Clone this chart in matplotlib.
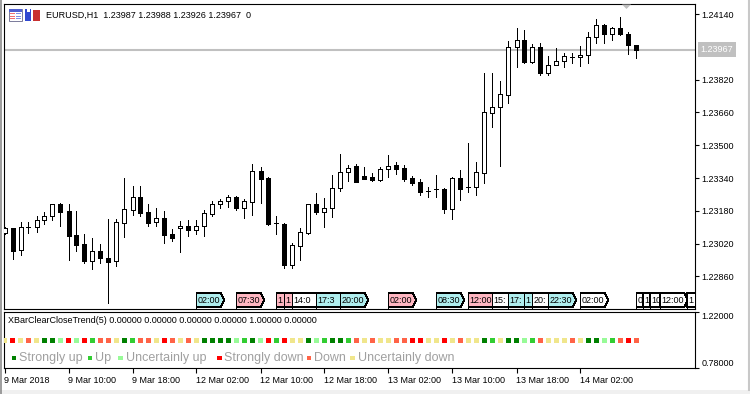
import matplotlib
matplotlib.use('Agg')
import matplotlib.pyplot as plt
import matplotlib.transforms as mtransforms
from matplotlib.patches import Polygon, Rectangle

plt.rcParams['font.family'] = ['Liberation Sans', 'DejaVu Sans']

# EURUSD H1, 80 bars from 9 Mar 2018 02:00
opens = [1.23071, 1.23096, 1.22987, 1.23102, 1.23099, 1.23133, 1.23153, 1.23214, 1.23179, 1.23060,
         1.23016, 1.22936, 1.22983, 1.22951, 1.22936, 1.23122, 1.23185, 1.23247, 1.23174, 1.23124,
         1.23144, 1.23065, 1.23094, 1.23104, 1.23084, 1.23104, 1.23163, 1.23211, 1.23226, 1.23246,
         1.23196, 1.23224, 1.23372, 1.23340, 1.23119, 1.23118, 1.22915, 1.23009, 1.23073, 1.23211,
         1.23175, 1.23192, 1.23289, 1.23367, 1.23400, 1.23349, 1.23345, 1.23330, 1.23382, 1.23403,
         1.23389, 1.23340, 1.23320, 1.23278, 1.23285, 1.23286, 1.23188, 1.23338, 1.23294, 1.23294,
         1.23366, 1.23655, 1.23685, 1.23743, 1.23977, 1.24012, 1.23907, 1.23977, 1.23851, 1.23890,
         1.23909, 1.23932, 1.23929, 1.23938, 1.24026, 1.24085, 1.24041, 1.24070, 1.24041, 1.23987]
highs = [1.23101, 1.23098, 1.23125, 1.23125, 1.23154, 1.23174, 1.23213, 1.23219, 1.23213, 1.23179,
         1.23065, 1.23047, 1.23018, 1.23138, 1.23138, 1.23340, 1.23301, 1.23301, 1.23213, 1.23193,
         1.23179, 1.23092, 1.23131, 1.23133, 1.23133, 1.23184, 1.23227, 1.23237, 1.23257, 1.23250,
         1.23239, 1.23408, 1.23392, 1.23345, 1.23154, 1.23120, 1.23024, 1.23096, 1.23213, 1.23268,
         1.23242, 1.23354, 1.23457, 1.23405, 1.23407, 1.23393, 1.23363, 1.23395, 1.23452, 1.23416,
         1.23402, 1.23348, 1.23335, 1.23297, 1.23354, 1.23291, 1.23345, 1.23379, 1.23510, 1.23416,
         1.23854, 1.23854, 1.23813, 1.24008, 1.24072, 1.24062, 1.23994, 1.23998, 1.23935, 1.23973,
         1.23950, 1.23950, 1.23984, 1.24051, 1.24114, 1.24091, 1.24078, 1.24127, 1.24054, 1.23988]
lows = [1.23066, 1.22947, 1.22965, 1.23074, 1.23075, 1.23114, 1.23137, 1.23107, 1.22941, 1.22985,
        1.22923, 1.22897, 1.22926, 1.22728, 1.22910, 1.23053, 1.23161, 1.23154, 1.23105, 1.23105,
        1.23024, 1.23034, 1.22980, 1.23058, 1.23068, 1.23058, 1.23157, 1.23196, 1.23201, 1.23184,
        1.23147, 1.23161, 1.23219, 1.23112, 1.23068, 1.22900, 1.22900, 1.22941, 1.23068, 1.23164,
        1.23102, 1.23151, 1.23276, 1.23327, 1.23320, 1.23333, 1.23327, 1.23327, 1.23346, 1.23361,
        1.23327, 1.23306, 1.23258, 1.23248, 1.23248, 1.23170, 1.23141, 1.23232, 1.23271, 1.23259,
        1.23317, 1.23587, 1.23397, 1.23704, 1.23880, 1.23899, 1.23902, 1.23841, 1.23841, 1.23889,
        1.23880, 1.23899, 1.23885, 1.23899, 1.24000, 1.24000, 1.24015, 1.24038, 1.23943, 1.23926]
closes = [1.23096, 1.22986, 1.23102, 1.23102, 1.23135, 1.23153, 1.23211, 1.23175, 1.23058, 1.23014,
          1.22936, 1.22983, 1.22951, 1.22931, 1.23126, 1.23188, 1.23247, 1.23170, 1.23122, 1.23143,
          1.23063, 1.23045, 1.23104, 1.23084, 1.23104, 1.23167, 1.23211, 1.23226, 1.23246, 1.23196,
          1.23227, 1.23372, 1.23336, 1.23115, 1.23119, 1.22915, 1.23013, 1.23075, 1.23211, 1.23174,
          1.23192, 1.23289, 1.23367, 1.23387, 1.23322, 1.23336, 1.23330, 1.23382, 1.23397, 1.23385,
          1.23336, 1.23317, 1.23271, 1.23278, 1.23285, 1.23190, 1.23338, 1.23287, 1.23294, 1.23367,
          1.23662, 1.23686, 1.23748, 1.23977, 1.24012, 1.23906, 1.23977, 1.23851, 1.23890, 1.23909,
          1.23934, 1.23932, 1.23940, 1.24026, 1.24085, 1.24041, 1.24070, 1.24041, 1.23987, 1.23967]

# XBarClearCloseTrend state per bar (index into trend_names)
trend = [5, 3, 5, 4, 5, 0, 0, 2, 3, 2, 3, 1, 4, 4, 5, 0, 1, 4, 4, 5,
         3, 4, 5, 4, 5, 0, 0, 0, 0, 2, 1, 0, 2, 3, 1, 3, 5, 5, 0, 2,
         1, 0, 0, 1, 4, 5, 4, 5, 5, 4, 4, 3, 3, 5, 5, 3, 5, 4, 5, 5,
         0, 1, 5, 0, 0, 2, 1, 4, 5, 5, 5, 4, 5, 0, 0, 2, 1, 4, 3, 4]
trend_names = ['Strongly up', 'Up', 'Uncertainly up', 'Strongly down', 'Down', 'Uncertainly down']
trend_colors = ['#008000', '#32cd32', '#98fb98', '#ff0000', '#ff6347', '#f0e68c']

time_ticks = [0, 8, 16, 24, 32, 40, 48, 56, 64, 72]
time_labels = ['9 Mar 2018', '9 Mar 10:00', '9 Mar 18:00', '12 Mar 02:00', '12 Mar 10:00',
               '12 Mar 18:00', '13 Mar 02:00', '13 Mar 10:00', '13 Mar 18:00', '14 Mar 02:00']
price_ticks = [1.22860, 1.23020, 1.23180, 1.23340, 1.23500, 1.23660, 1.23820, 1.24140]

# calendar event labels (bar position, visible text, kind); later ones cover earlier ones
event_pos = [24, 29, 34, 35, 36, 39, 42, 48, 54, 58, 61, 63, 65, 66, 68, 72,
             79, 79.85, 80.7, 81.95, 85.3]
event_text = ['02:00', '07:30', '1', '1', '14:0', '17:3', '20:00', '02:00', '08:30',
              '12:00', '15:', '17:', '1', '20:', '22:30', '02:00',
              '0', '1', '10', '12:00', '1']
event_kind = ['c', 'p', 'p', 'p', 'w', 'c', 'c', 'p', 'c', 'p', 'w', 'c', 'c', 'w', 'c', 'w',
              'w', 'w', 'w', 'w', 'w']
kind_colors = {'c': '#afeeee', 'p': '#ffb6c1', 'w': 'white'}

W, H = 750, 394
fig = plt.figure(figsize=(W / 100, H / 100), dpi=100)


def box(x0, y0, x1, y1):
    return [x0 / W, 1 - y1 / H, (x1 - x0) / W, (y1 - y0) / H]


xlim = (-0.0625, -0.0625 + 691 / 8)

# main price pane
ax = fig.add_axes(box(4, 4, 695, 309))
ax.set_xlim(*xlim)
ax.set_ylim(1.22701, 1.24189)
for s in ax.spines.values():
    s.set_linewidth(0.8)

x = list(range(len(opens)))
bottoms = [min(o, c) for o, c in zip(opens, closes)]
heights = [abs(c - o) for o, c in zip(opens, closes)]
fills = ['white' if c >= o else 'black' for o, c in zip(opens, closes)]

ax.axhline(closes[-1], color='#c0c0c0', lw=1.5, zorder=1)
ax.vlines(x, lows, highs, color='black', lw=0.72, zorder=2, antialiased=False)
ax.bar(x, heights, bottom=bottoms, width=0.5, color=fills, edgecolor='black',
       linewidth=0.72, zorder=3, antialiased=False)

ax.set_xticks([])
ax.yaxis.tick_right()
ax.set_yticks(price_ticks)
ax.set_yticklabels([f'{v:.5f}' for v in price_ticks])
ax.tick_params(axis='y', direction='out', length=3, width=0.8, pad=1.5, labelsize=6.5)

bl = mtransforms.blended_transform_factory(ax.transAxes, ax.transData)
ax.annotate(f'{closes[-1]:.5f}', xy=(1, closes[-1]), xycoords=bl, xytext=(3.8, 0),
            textcoords='offset points', ha='left', va='center', size=6.5, color='white',
            bbox=dict(boxstyle='square,pad=0.3', fc='#c0c0c0', ec='none'),
            annotation_clip=False, zorder=10)

# event labels along the bottom of the price pane
ev = mtransforms.blended_transform_factory(ax.transData, ax.transAxes)
y0, y1 = 0.0075, 0.0515
for k, (pos, txt, kind) in enumerate(zip(event_pos, event_text, event_kind)):
    z = 5 + k * 0.1
    x1 = pos + 3.05
    poly = Polygon([(pos, y0), (x1, y0), (x1 + 0.45, (y0 + y1) / 2), (x1, y1), (pos, y1)],
                   closed=True, fc=kind_colors[kind], ec='black', lw=0.72,
                   transform=ev, zorder=z, antialiased=False)
    ax.add_patch(poly)
    ax.plot([pos, pos], [0, y0], color='black', lw=0.72, transform=ev, zorder=z)
    t = ax.text(pos + 0.12, (y0 + y1) / 2, txt, transform=ev, ha='left', va='center',
                size=6.5, zorder=z + 0.05, clip_on=True)
    t.set_clip_path(poly)

# indicator pane
ax2 = fig.add_axes(box(4, 311.5, 695, 368))
ax2.set_xlim(*xlim)
ax2.set_ylim(0.78, 1.224)
for s in ax2.spines.values():
    s.set_linewidth(0.8)
ax2.scatter(x, [1.0] * len(trend), c=[trend_colors[t] for t in trend], marker='s', s=13,
            linewidths=0, zorder=3)
ax2.yaxis.tick_right()
ax2.set_yticks([0.78, 1.22])
ax2.set_yticklabels(['0.78000', '1.22000'])
ax2.tick_params(axis='y', direction='out', length=3, width=0.8, pad=1.5, labelsize=6.5)
lbls = ax2.get_yticklabels()
lbls[0].set_va('bottom')
lbls[1].set_va('top')
ax2.set_xticks(time_ticks)
ax2.set_xticklabels(time_labels)
ax2.tick_params(axis='x', direction='out', length=3.5, width=0.8, pad=2.5, labelsize=6.5)
for lbl in ax2.get_xticklabels():
    lbl.set_ha('left')

# overlay for window decorations, titles and legend
ov = fig.add_axes([0, 0, 1, 1], zorder=20)
ov.set_xlim(0, W)
ov.set_ylim(H, 0)
ov.axis('off')
ov.patch.set_visible(False)

ov.add_patch(Rectangle((0, 390), W, 4, fc='#f0f0f0', ec='none'))
ov.plot([0.7, 0.7], [0, H], color='#8c8c8c', lw=1.2)
ov.plot([748.5, 748.5], [0, 390], color='#c8c8c8', lw=1.5)

# chart icons
ov.add_patch(Rectangle((8.5, 8.5), 13.5, 12, fc='white', ec='#7a7a9a', lw=0.7))
ov.add_patch(Rectangle((9, 9), 12.5, 2.5, fc='#5060d0', ec='none'))
for yy in (13, 15.5, 18):
    ov.add_patch(Rectangle((10, yy), 5, 1.3, fc='#f07070', ec='none'))
    ov.add_patch(Rectangle((16, yy), 4.5, 1.3, fc='#8090e0', ec='none'))
ov.add_patch(Rectangle((25, 9), 6, 11.5, fc='#3048d0', ec='none'))
ov.add_patch(Rectangle((27, 9), 3, 3, fc='white', ec='none'))
ov.add_patch(Rectangle((33, 10), 7, 10.5, fc='#c83030', ec='none'))

ov.text(45.5, 15, f'EURUSD,H1  {opens[-1]:.5f} {highs[-1]:.5f} {lows[-1]:.5f} {closes[-1]:.5f}  0',
        ha='left', va='center', size=6.5)
ov.add_patch(Polygon([(622, 4.5), (631, 4.5), (626.5, 9)], closed=True, fc='#c0c0c0', ec='none'))

buf = ' '.join('1.00000' if i == trend[-1] else '0.00000' for i in range(len(trend_names)))
ov.text(7.5, 320.5, f'XBarClearCloseTrend(5) {buf}', ha='left', va='center', size=6.5)

legend_x = [11.5, 87.5, 118, 217, 306.5, 350]
for lx, name, col in zip(legend_x, trend_names, trend_colors):
    ov.add_patch(Rectangle((lx, 355.5), 4.5, 4.5, fc=col, ec='none'))
    ov.text(lx + 7.5, 358, name, ha='left', va='center', size=9, color='#a0a0a0')

fig.savefig('out.png', dpi=100)
